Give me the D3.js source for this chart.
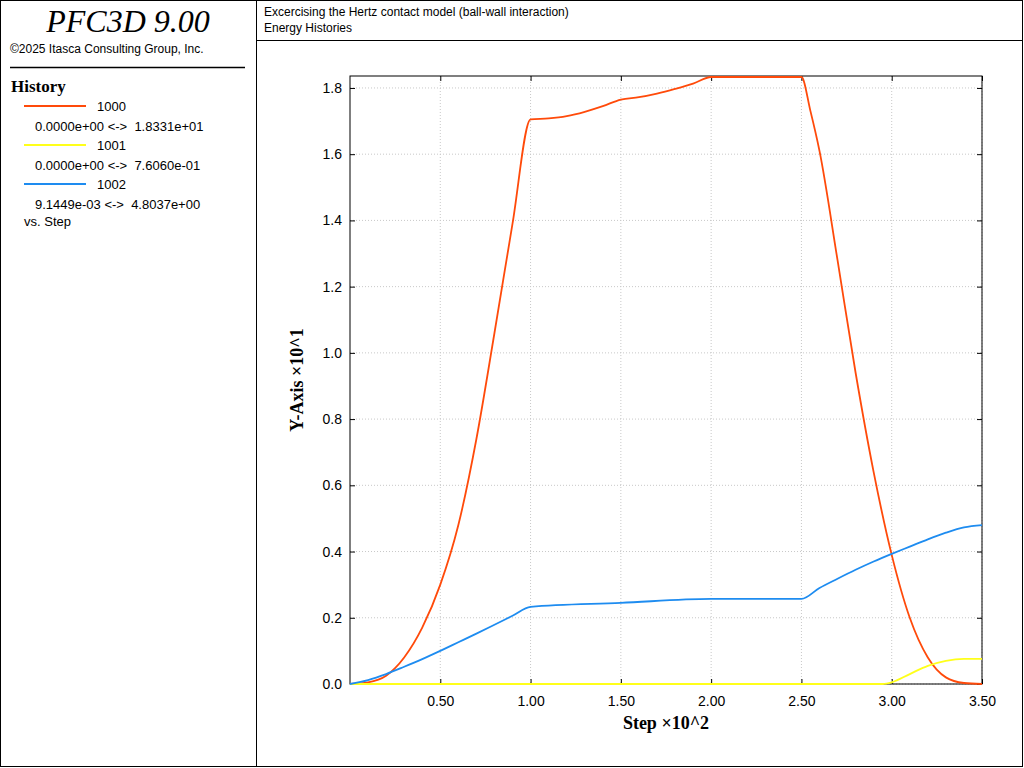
<!DOCTYPE html>
<html><head><meta charset="utf-8">
<script src="https://cdn.jsdelivr.net/npm/d3@7"></script>
<style>body{margin:0;background:#fff}svg{display:block}</style>
</head><body>
<svg id="chart" width="1024" height="768"></svg>
<script>
// data (x in step x10^2, y in x10^1)
const redX = [0,0.1,0.2,0.3,0.4,0.5,0.6,0.7,0.8,0.9,1.0,1.1,1.2,1.3,1.4,1.5,1.6,1.7,1.8,1.9,2.0,2.5,2.55,2.6,2.7,2.8,2.9,3.0,3.1,3.2,3.3,3.4,3.5];
const redY = [0,0.005,0.025,0.08,0.17,0.30,0.48,0.74,1.06,1.39,1.705,1.708,1.715,1.728,1.745,1.765,1.772,1.783,1.797,1.813,1.8331,1.8331,1.73,1.61,1.28,0.94,0.64,0.39,0.20,0.08,0.02,0.003,0];
const yelX = [0,2.9,2.95,3.0,3.1,3.2,3.3,3.4,3.5];
const yelY = [0,0,0,0.005,0.03,0.055,0.07,0.076,0.0761];
const bluX = [0,0.1,0.2,0.3,0.4,0.5,0.6,0.7,0.8,0.9,1.0,1.5,2.0,2.5,2.6,2.7,2.8,2.9,3.0,3.1,3.2,3.3,3.4,3.5];
const bluY = [0,0.012,0.03,0.052,0.075,0.10,0.126,0.152,0.179,0.206,0.233,0.245,0.257,0.257,0.29,0.318,0.345,0.37,0.393,0.415,0.437,0.457,0.473,0.480];
const xTicks = [0.5,1.0,1.5,2.0,2.5,3.0,3.5];
const yTicks = [0,0.2,0.4,0.6,0.8,1.0,1.2,1.4,1.6,1.8];
const legend = [
  {name:'1000', range:'0.0000e+00 <->  1.8331e+01', color:'#ff4a0a'},
  {name:'1001', range:'0.0000e+00 <->  7.6060e-01', color:'#ffff1a'},
  {name:'1002', range:'9.1449e-03 <->  4.8037e+00', color:'#1e8cf0'}
];

const svg = d3.select('#chart');
const txt = 'Arial, "Liberation Sans", sans-serif';

// frames
svg.append('rect').attr('x',0.5).attr('y',0.5).attr('width',1022).attr('height',766).attr('fill','none').attr('stroke','#000');
svg.append('line').attr('x1',256.5).attr('x2',256.5).attr('y1',0).attr('y2',767).attr('stroke','#000');
svg.append('line').attr('x1',256).attr('x2',1023).attr('y1',40.5).attr('y2',40.5).attr('stroke','#000');
svg.append('text').attr('x',128).attr('y',32).attr('text-anchor','middle')
  .style('font','italic 32px "Liberation Serif", "Times New Roman", serif').text('PFC3D 9.00');
svg.append('text').attr('x',10).attr('y',53).style('font',`12px ${txt}`).text('©2025 Itasca Consulting Group, Inc.');
svg.append('line').attr('x1',10).attr('x2',245).attr('y1',67.5).attr('y2',67.5).attr('stroke','#000').attr('stroke-width',1.5);
svg.append('text').attr('x',11).attr('y',92).style('font','bold 17px "Liberation Serif", serif').text('History');
legend.forEach((d,i) => {
  const y = 106 + i*39;
  svg.append('line').attr('x1',24).attr('x2',86).attr('y1',y).attr('y2',y).attr('stroke',d.color).attr('stroke-width',2);
  svg.append('text').attr('x',97).attr('y',y+5).style('font',`13px ${txt}`).text(d.name);
  svg.append('text').attr('x',35).attr('y',y+25).style('font',`13px ${txt}`).style('white-space','pre').text(d.range);
});
svg.append('text').attr('x',24).attr('y',226).style('font',`13px ${txt}`).text('vs. Step');
svg.append('text').attr('x',264).attr('y',16).style('font',`12px ${txt}`).text('Excercising the Hertz contact model (ball-wall interaction)');
svg.append('text').attr('x',264).attr('y',32).style('font',`12px ${txt}`).text('Energy Histories');

// plot
const L = 350, R = 982, T = 76, B = 684;
const x = d3.scaleLinear().domain([0,3.5]).range([L,R]);
const y = d3.scaleLinear().domain([0,1.8331]).range([B,T+1]);

const grid = svg.append('g').attr('stroke','#c8c8c8').attr('stroke-dasharray','1,2');
xTicks.forEach(t => grid.append('line').attr('x1',x(t)).attr('x2',x(t)).attr('y1',T).attr('y2',B));
yTicks.forEach(t => grid.append('line').attr('x1',L).attr('x2',R).attr('y1',y(t)).attr('y2',y(t)));

svg.append('rect').attr('x',L).attr('y',T).attr('width',R-L).attr('height',B-T).attr('fill','none').attr('stroke','#000');

svg.append('g').attr('transform',`translate(0,${B})`)
  .call(d3.axisBottom(x).tickValues(xTicks).tickFormat(d3.format('.2f')).tickSize(-5).tickPadding(12));
svg.append('g').attr('transform',`translate(${L},0)`)
  .call(d3.axisLeft(y).tickValues(yTicks).tickFormat(d3.format('.1f')).tickSize(-5).tickPadding(8));
svg.append('g').attr('transform',`translate(${R},0)`)
  .call(d3.axisRight(y).tickValues(yTicks).tickFormat('').tickSize(-5));
svg.append('g').attr('transform',`translate(0,${T})`)
  .call(d3.axisTop(x).tickValues(xTicks).tickFormat('').tickSize(-5));
svg.selectAll('.domain').remove();
svg.selectAll('.tick text').style('font',`14px ${txt}`).attr('fill','#000');

svg.append('text').attr('x',(L+R)/2).attr('y',729).attr('text-anchor','middle')
  .style('font','bold 18px "Liberation Serif", serif').text('Step ×10^2');
svg.append('text').attr('transform',`translate(303,${(T+B)/2}) rotate(-90)`).attr('text-anchor','middle')
  .style('font','bold 18px "Liberation Serif", serif').text('Y-Axis ×10^1');

const line = d3.line().x(d => x(d[0])).y(d => y(d[1])).curve(d3.curveMonotoneX);
const series = [[redX,redY,legend[0].color],[yelX,yelY,legend[1].color],[bluX,bluY,legend[2].color]];
series.forEach(([xs,ys,c]) => {
  svg.append('path').datum(xs.map((v,i) => [v,ys[i]]))
    .attr('d',line).attr('fill','none').attr('stroke',c).attr('stroke-width',1.8);
});
</script>
</body></html>
